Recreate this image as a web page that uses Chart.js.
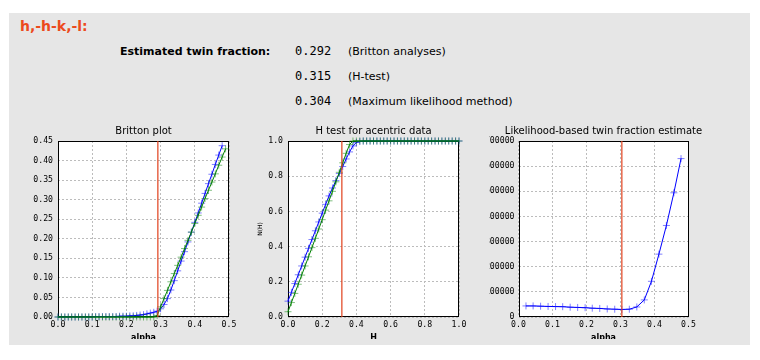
<!DOCTYPE html>
<html>
<head>
<meta charset="utf-8">
<script src="https://cdn.jsdelivr.net/npm/chart.js"></script>
<style>
body{margin:0;background:#fff;width:760px;height:360px;overflow:hidden;position:relative;font-family:"DejaVu Sans",sans-serif;color:#000}
#panel{position:absolute;left:9px;top:13px;width:741px;height:332px;background:#e6e6e6}
.t{position:absolute;white-space:nowrap;line-height:normal}
canvas{position:absolute}
</style>
</head>
<body>
<div id="panel"></div>
<div class="t" id="op" style="left:20px;top:18.3px;font-weight:bold;font-size:14px;color:#ec4a1c"></div>
<div class="t" style="left:120px;top:45.3px;font-weight:bold;font-size:11px">Estimated twin fraction:</div>
<div id="rows"></div>
<canvas id="c1" width="230" height="217" style="left:24px;top:122px"></canvas>
<canvas id="c2" width="230" height="217" style="left:254px;top:122px"></canvas>
<canvas id="c3" width="230" height="217" style="left:488.5px;top:122px"></canvas>
<script>
// twin operator and the three estimates
const twinOperator = 'h,-h-k,-l:';
const estimates = [0.292, 0.315, 0.304];
const methods = ['(Britton analyses)', '(H-test)', '(Maximum likelihood method)'];

// Britton plot
const brittonAlphaObs = [0.00,0.01,0.02,0.03,0.04,0.05,0.06,0.07,0.08,0.09,0.10,0.11,0.12,0.13,0.14,0.15,0.16,0.17,0.18,0.19,0.20,0.21,0.22,0.23,0.24,0.25,0.26,0.27,0.28,0.29,0.30,0.31,0.32,0.33,0.34,0.35,0.36,0.37,0.38,0.39,0.40,0.41,0.42,0.43,0.44,0.45,0.46,0.47,0.48];
const brittonObs = [0.000,0.000,0.000,0.000,0.000,0.000,0.000,0.000,0.000,0.000,0.000,0.001,0.001,0.001,0.001,0.001,0.001,0.001,0.002,0.002,0.002,0.003,0.003,0.004,0.005,0.006,0.008,0.010,0.012,0.015,0.021,0.032,0.047,0.069,0.093,0.118,0.143,0.167,0.192,0.217,0.242,0.266,0.291,0.316,0.341,0.365,0.390,0.414,0.438];
const brittonAlphaFit = [0.00,0.01,0.02,0.03,0.04,0.05,0.06,0.07,0.08,0.09,0.10,0.11,0.12,0.13,0.14,0.15,0.16,0.17,0.18,0.19,0.20,0.21,0.22,0.23,0.24,0.25,0.26,0.27,0.28,0.29,0.30,0.31,0.32,0.33,0.34,0.35,0.36,0.37,0.38,0.39,0.40,0.41,0.42,0.43,0.44,0.45,0.46,0.47,0.48,0.49];
const brittonFit = [0,0,0,0,0,0,0,0,0,0,0,0,0,0,0,0,0,0,0,0,0,0,0,0,0,0,0,0,0,0.004,0.026,0.047,0.068,0.090,0.111,0.132,0.153,0.175,0.196,0.217,0.239,0.260,0.281,0.303,0.324,0.345,0.366,0.388,0.409,0.430];
const brittonXTicks = [0.0,0.1,0.2,0.3,0.4,0.5];
const brittonYTicks = [0.00,0.05,0.10,0.15,0.20,0.25,0.30,0.35,0.40,0.45];

// H test
const hValues = [0.00,0.02,0.04,0.06,0.08,0.10,0.12,0.14,0.16,0.18,0.20,0.22,0.24,0.26,0.28,0.30,0.32,0.34,0.36,0.38,0.40,0.42,0.44,0.46,0.48,0.50,0.52,0.54,0.56,0.58,0.60,0.62,0.64,0.66,0.68,0.70,0.72,0.74,0.76,0.78,0.80,0.82,0.84,0.86,0.88,0.90,0.92,0.94,0.96,0.98,1.00];
const hObs = [0.090,0.140,0.190,0.240,0.290,0.340,0.390,0.440,0.490,0.540,0.590,0.640,0.688,0.733,0.775,0.815,0.855,0.898,0.938,0.972,0.992,0.998,1,1,1,1,1,1,1,1,1,1,1,1,1,1,1,1,1,1,1,1,1,1,1,1,1,1,1,1,1];
const hFit = [0.030,0.082,0.134,0.186,0.238,0.290,0.342,0.394,0.447,0.500,0.553,0.607,0.660,0.714,0.768,0.822,0.876,0.930,0.980,1,1,1,1,1,1,1,1,1,1,1,1,1,1,1,1,1,1,1,1,1,1,1,1,1,1,1,1,1,1,1,1];
const hXTicks = [0.0,0.2,0.4,0.6,0.8,1.0];
const hYTicks = [0.0,0.2,0.4,0.6,0.8,1.0];

// likelihood
const mlAlpha = [0.022,0.043,0.065,0.087,0.109,0.130,0.152,0.174,0.196,0.217,0.239,0.261,0.283,0.304,0.326,0.348,0.370,0.391,0.413,0.435,0.457,0.478];
const mlValues = [44000,44000,43000,42000,41500,41000,39000,38000,37000,35000,34000,32000,31000,30000,31000,40000,68000,142000,250000,364000,494000,630000];
const mlXTicks = [0.0,0.1,0.2,0.3,0.4,0.5];
const mlYTicks = [0,100000,200000,300000,400000,500000,600000,700000];

document.getElementById('op').textContent = twinOperator;
const rows = document.getElementById('rows');
estimates.forEach((v, i) => {
  const n = document.createElement('div');
  n.className = 't';
  n.style.cssText = 'left:295px;top:' + (44.4 + i * 25) + 'px;font-family:"DejaVu Sans Mono",monospace;font-size:12px';
  n.textContent = v.toFixed(3);
  rows.appendChild(n);
  const m = document.createElement('div');
  m.className = 't';
  m.style.cssText = 'left:348px;top:' + (45.3 + i * 25) + 'px;font-size:11px';
  m.textContent = methods[i];
  rows.appendChild(m);
});

const pts = (xs, ys) => xs.map((x, i) => ({x: x, y: ys[i]}));

// white axes background, black box, and a title centred over the axes
const frame = {
  id: 'frame',
  beforeDraw(chart) {
    const a = chart.chartArea, ctx = chart.ctx;
    ctx.save();
    ctx.fillStyle = '#fff';
    ctx.fillRect(a.left, a.top, a.width, a.height);
    ctx.restore();
  },
  beforeDatasetsDraw(chart) {
    const a = chart.chartArea, ctx = chart.ctx;
    ctx.save();
    ctx.strokeStyle = '#000';
    ctx.lineWidth = 1;
    ctx.strokeRect(Math.round(a.left) + 0.5, Math.round(a.top) + 0.5, Math.round(a.width) - 1, Math.round(a.height) - 1);
    ctx.restore();
  },
  afterDraw(chart, args, opts) {
    const a = chart.chartArea, ctx = chart.ctx;
    ctx.save();
    ctx.fillStyle = '#000';
    ctx.font = '10px "DejaVu Sans"';
    ctx.textAlign = 'center';
    ctx.textBaseline = 'alphabetic';
    ctx.fillText(opts.text, (a.left + a.right) / 2, a.top - 7);
    ctx.restore();
  }
};

function series(xs, ys, color, marker) {
  return {
    data: pts(xs, ys), borderColor: color, borderWidth: 1,
    pointStyle: 'cross', pointRadius: 3.5, pointBorderWidth: 1,
    pointBorderColor: marker, pointBackgroundColor: marker,
    tension: 0, fill: false, clip: false
  };
}

function vline(x, y0, y1) {
  return {data: [{x: x, y: y0}, {x: x, y: y1}], borderColor: '#e0401c', borderWidth: 1.2, pointRadius: 0, fill: false};
}

function figure(id, o) {
  const tickFont = {family: 'DejaVu Sans Mono', size: 8.2};
  return new Chart(document.getElementById(id), {
    type: 'line',
    data: {datasets: o.datasets},
    options: {
      responsive: false,
      animation: false,
      events: [],
      layout: {padding: {left: 0, right: o.right, top: 19, bottom: 0}},
      plugins: {
        legend: {display: false},
        tooltip: {enabled: false},
        title: {display: false},
        frame: {text: o.title}
      },
      scales: {
        x: {
          type: 'linear', min: o.xTicks[0], max: o.xTicks[o.xTicks.length - 1],
          afterFit: s => { s.height = 22; },
          afterBuildTicks: s => { s.ticks = o.xTicks.map(v => ({value: v})); },
          grid: {color: '#bcbcbc', lineWidth: 1, drawTicks: false},
          border: {display: false, dash: [2, 2]},
          ticks: {color: '#000', font: tickFont, padding: 3, maxRotation: 0, autoSkip: false,
            callback: v => Number(v).toFixed(1)},
          title: {display: true, text: o.xTitle, color: '#000',
            font: {family: 'DejaVu Sans', size: 8, weight: 'bold'}, padding: {top: 0, bottom: -3.8}}
        },
        y: {
          type: 'linear', min: o.yTicks[0], max: o.yTicks[o.yTicks.length - 1],
          afterFit: s => { s.width = o.yWidth; },
          afterBuildTicks: s => { s.ticks = o.yTicks.map(v => ({value: v})); },
          grid: {color: '#bcbcbc', lineWidth: 1, drawTicks: false},
          border: {display: false, dash: [2, 2]},
          ticks: {color: '#000', font: tickFont, padding: o.yPad, autoSkip: false,
            callback: v => Number(v).toFixed(o.yDec)},
          title: {display: !!o.yTitle, text: o.yTitle || '', color: '#000',
            font: {family: 'DejaVu Sans', size: 6}, padding: {top: 2.4, bottom: 0}}
        }
      }
    },
    plugins: [frame]
  });
}

const BLUE = '#0000ff', GREEN = '#008000';
const BLUE_M = 'rgba(0,0,255,0.5)', GREEN_M = 'rgba(0,128,0,0.5)';

figure('c1', {
  title: 'Britton plot', xTitle: 'alpha', right: 25, yWidth: 34, yPad: 5, yDec: 2,
  xTicks: brittonXTicks, yTicks: brittonYTicks,
  datasets: [
    vline(estimates[0], brittonYTicks[0], brittonYTicks[brittonYTicks.length - 1]),
    series(brittonAlphaFit, brittonFit, GREEN, GREEN_M),
    series(brittonAlphaObs, brittonObs, BLUE, BLUE_M)
  ]
});

figure('c2', {
  title: 'H test for acentric data', xTitle: 'H', yTitle: 'N(H)', right: 25, yWidth: 34, yPad: 5, yDec: 1,
  xTicks: hXTicks, yTicks: hYTicks,
  datasets: [
    vline(estimates[1], hYTicks[0], hYTicks[hYTicks.length - 1]),
    series(hValues, hFit, GREEN, GREEN_M),
    series(hValues, hObs, BLUE, BLUE_M)
  ]
});

figure('c3', {
  title: 'Likelihood-based twin fraction estimate', xTitle: 'alpha', right: 30.5, yWidth: 29.5, yPad: 4, yDec: 0,
  xTicks: mlXTicks, yTicks: mlYTicks,
  datasets: [
    vline(estimates[2], mlYTicks[0], mlYTicks[mlYTicks.length - 1]),
    series(mlAlpha, mlValues, BLUE, BLUE_M)
  ]
});
</script>
</body>
</html>
